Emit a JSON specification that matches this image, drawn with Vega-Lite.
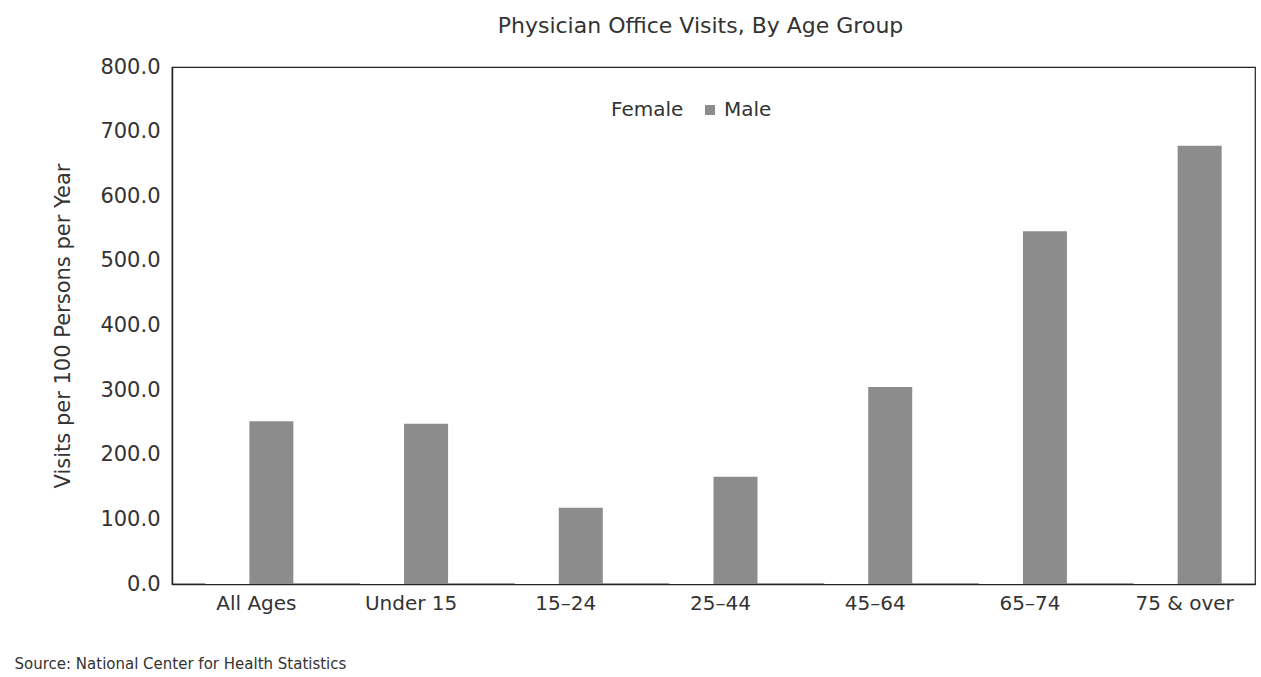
{
  "$schema": "https://vega.github.io/schema/vega-lite/v6.json",
  "autosize": {"type": "none"},
  "width": 1083,
  "height": 517,
  "padding": {"left": 172, "top": 67, "right": 6, "bottom": 93},
  "background": "white",
  "config": {
    "font": "DejaVu Sans",
    "view": {"stroke": "#222", "strokeWidth": 1.2},
    "axis": {"grid": false, "domainColor": "#222", "labelColor": "#333", "titleColor": "#333", "labelFont": "DejaVu Sans", "titleFont": "DejaVu Sans"},
    "legend": {"padding": 0}
  },
  "title": {"text": "Physician Office Visits, By Age Group", "fontSize": 22, "font": "DejaVu Sans", "fontWeight": "normal", "color": "#333", "offset": 18, "dx": -13},
  "data": {"values": [
    {"age": "All Ages", "sex": "Female", "visits": 295},
    {"age": "All Ages", "sex": "Male", "visits": 252},
    {"age": "Under 15", "sex": "Female", "visits": 215},
    {"age": "Under 15", "sex": "Male", "visits": 248},
    {"age": "15–24", "sex": "Female", "visits": 185},
    {"age": "15–24", "sex": "Male", "visits": 118},
    {"age": "25–44", "sex": "Female", "visits": 250},
    {"age": "25–44", "sex": "Male", "visits": 166},
    {"age": "45–64", "sex": "Female", "visits": 370},
    {"age": "45–64", "sex": "Male", "visits": 305},
    {"age": "65–74", "sex": "Female", "visits": 420},
    {"age": "65–74", "sex": "Male", "visits": 546},
    {"age": "75 & over", "sex": "Female", "visits": 410},
    {"age": "75 & over", "sex": "Male", "visits": 678}
  ]},
  "mark": {"type": "bar"},
  "encoding": {
    "x": {
      "field": "age", "type": "nominal", "sort": null,
      "scale": {"paddingInner": 0, "paddingOuter": 0},
      "axis": {"labelAngle": 0, "labelFontSize": 20, "ticks": false, "labelPadding": 9, "labelOffset": 7, "domainWidth": 1.5,
        "title": "Source: National Center for Health Statistics", "titleFontSize": 15, "titleFontWeight": "normal",
        "titleAnchor": "start", "titleAlign": "left", "titleBaseline": "middle", "titleX": -158, "titleY": 79}
    },
    "xOffset": {"field": "sex", "type": "nominal", "scale": {"paddingInner": 0, "paddingOuter": 0.758}},
    "y": {
      "field": "visits", "type": "quantitative",
      "scale": {"domain": [0, 800], "nice": false},
      "axis": {"values": [0, 100, 200, 300, 400, 500, 600, 700, 800], "format": ".1f", "labelFontSize": 21, "ticks": false, "labelPadding": 12,
        "title": "Visits per 100 Persons per Year", "titleFontSize": 21, "titleFontWeight": "normal", "titlePadding": 26, "domainWidth": 1.5}
    },
    "color": {
      "field": "sex", "type": "nominal",
      "scale": {"domain": ["Female", "Male"], "range": ["#ffffff", "#8c8c8c"]},
      "legend": {"orient": "none", "legendX": 415, "legendY": 33, "direction": "horizontal", "title": null,
        "labelFontSize": 20, "labelColor": "#333", "symbolType": "square", "symbolSize": 100, "symbolStrokeWidth": 0, "columnPadding": 16, "labelOffset": 4}
    }
  }
}
